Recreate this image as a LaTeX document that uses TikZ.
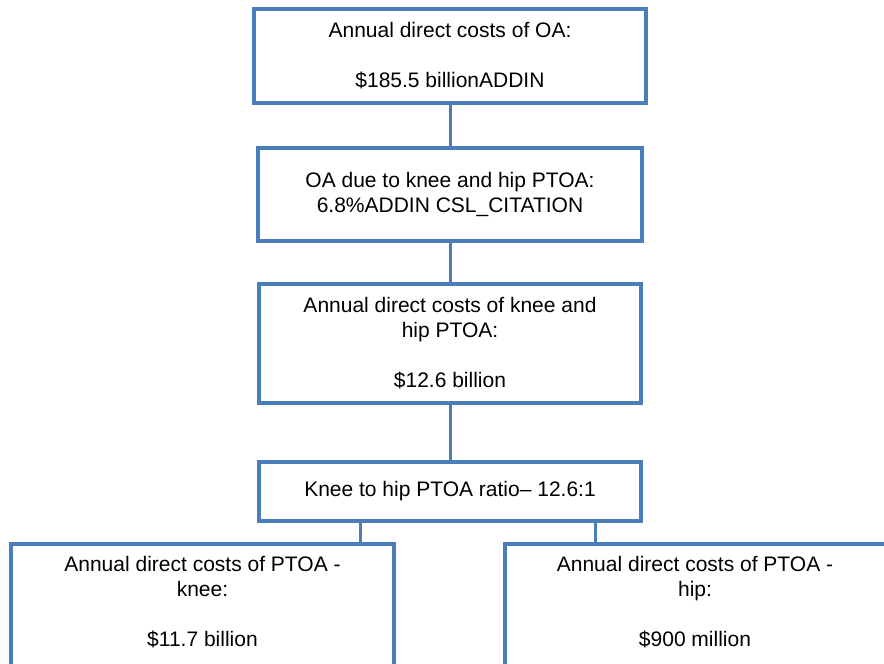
\documentclass[tikz,border=0pt]{standalone}
\usepackage{fontspec}
\setmainfont{Liberation Sans}
\definecolor{boxblue}{RGB}{74,126,187}
\begin{document}
\begin{tikzpicture}[x=1pt,y=-1pt,
  box/.style={draw=boxblue, line width=4pt, fill=white, align=center, inner sep=0pt, font=\fontsize{21}{25}\selectfont},
  txt/.style={align=center, inner sep=0pt, font=\fontsize{21}{25}\selectfont},
  conn/.style={draw=boxblue, line width=3pt}]
\useasboundingbox (0,0) rectangle (884,664);
\clip (0,0) rectangle (884,664);
\node[box, minimum width=392, minimum height=94] (b1) at (450,56) {Annual direct costs of OA:\\[25pt]\$185.5 billionADDIN};
\node[box, minimum width=384, minimum height=93] (b2) at (450,194.5) {OA due to knee and hip PTOA:\\6.8\%ADDIN CSL\_CITATION};
\node[box, minimum width=382, minimum height=119] (b3) at (450,343.5) {Annual direct costs of knee and\\hip PTOA:\\[25pt]\$12.6 billion};
\node[box, minimum width=382, minimum height=59] (b4) at (450,491.5) {Knee to hip PTOA ratio-- 12.6:1};
\node[box, minimum width=383, minimum height=136] (b5) at (202.5,612) {};
\node[box, minimum width=385, minimum height=136] (b6) at (697.5,612) {};
\node[txt] (t5) at (202.5,602.5) {Annual direct costs of PTOA -\\knee:\\[25pt]\$11.7 billion};
\node[txt] (t6) at (695,602.5) {Annual direct costs of PTOA -\\hip:\\[25pt]\$900 million};
\coordinate (k1) at (360,0);
\coordinate (k2) at (595,0);
\begin{scope}[on background layer/.style={}]
\end{scope}
\draw[conn] (b1.south) -- (b2.north);
\draw[conn] (b2.south) -- (b3.north);
\draw[conn] (b3.south) -- (b4.north);
\draw[conn] (b4.south -| k1) -- (b5.north -| k1);
\draw[conn] (b4.south -| k2) -- (b6.north -| k2);
\end{tikzpicture}
\end{document}
